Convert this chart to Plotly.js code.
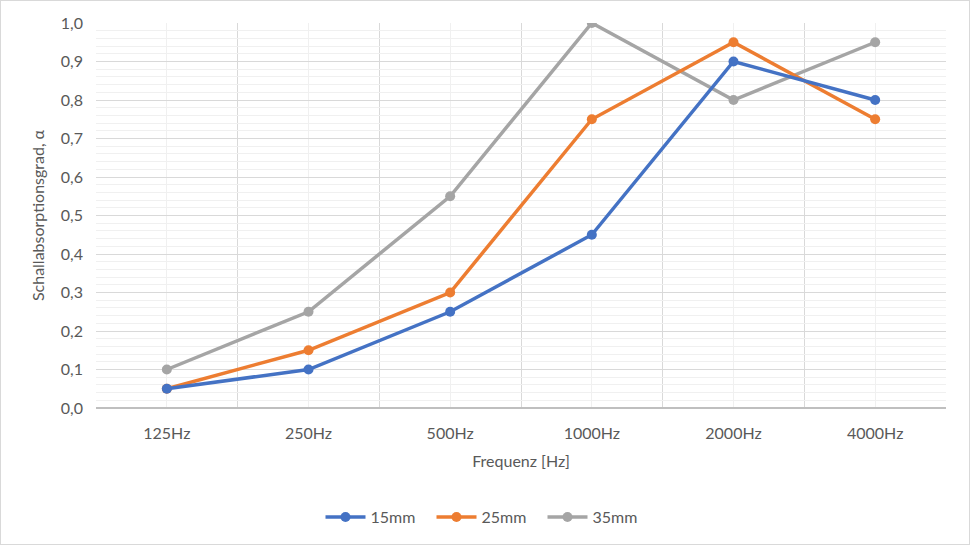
<!DOCTYPE html>
<html>
<head>
<meta charset="utf-8">
<script src="https://cdn.plot.ly/plotly-3.0.1.min.js"></script>
<style>
  html, body { margin: 0; padding: 0; background: #fff; }
  #wrap { position: relative; width: 970px; height: 545px; }
  #chart { width: 970px; height: 545px; }
  #frame { position: absolute; left: 0; top: 0; width: 970px; height: 545px;
           box-sizing: border-box; border: 1px solid #d9d9d9; pointer-events: none; }
</style>
</head>
<body>
<div id="wrap">
  <div id="chart"></div>
  <div id="frame"></div>
</div>
<script>
  // Frequenzbänder und Absorptionsgrade je Plattendicke
  var BANDS = ["125Hz", "250Hz", "500Hz", "1000Hz", "2000Hz", "4000Hz"];
  var MM15 = [0.05, 0.10, 0.25, 0.45, 0.90, 0.80];
  var MM25 = [0.05, 0.15, 0.30, 0.75, 0.95, 0.75];
  var MM35 = [0.10, 0.25, 0.55, 1.00, 0.80, 0.95];

  var FONT = "Lato, 'Liberation Sans', sans-serif";
  var TXT = "#595959";
  var idx = BANDS.map(function (_, i) { return i; });

  function series(name, ys, color) {
    return {
      type: "scatter", mode: "lines+markers", name: name,
      x: idx, y: ys,
      line: { color: color, width: 3.5 },
      marker: { color: color, size: 10 }
    };
  }

  var traces = [
    series("35mm", MM35, "#A5A5A5"),
    series("25mm", MM25, "#ED7D31"),
    series("15mm", MM15, "#4472C4")
  ];

  var layout = {
    width: 970, height: 545,
    paper_bgcolor: "#fff", plot_bgcolor: "#fff",
    separators: ",.",
    font: { family: FONT, size: 16, color: TXT },
    margin: { l: 96, r: 24, t: 23, b: 136 },
    showlegend: true,
    legend: { orientation: "h", x: 0.46, xanchor: "center", y: -0.28, yanchor: "middle",
      traceorder: "reversed", font: { size: 16, color: TXT }, itemwidth: 40,
      entrywidth: 56, entrywidthmode: "pixels" },
    xaxis: {
      range: [-0.5, 5.5], tickvals: idx, ticktext: BANDS,
      showgrid: true, gridcolor: "#f0f0f0", gridwidth: 1,
      minor: { tick0: -0.5, dtick: 1, showgrid: true, gridcolor: "#d9d9d9", gridwidth: 1 },
      zeroline: false, showline: false, ticks: "", ticklabelstandoff: 14,
      fixedrange: true,
      title: { text: "Frequenz [Hz]", font: { size: 16, color: TXT }, standoff: 14 }
    },
    yaxis: {
      range: [0, 1], tick0: 0, dtick: 0.1, tickformat: ".1f",
      showgrid: true, gridcolor: "#d9d9d9", gridwidth: 1,
      minor: { dtick: 0.02, showgrid: true, gridcolor: "#f0f0f0", gridwidth: 1 },
      zeroline: true, zerolinecolor: "#bfbfbf", zerolinewidth: 1.5,
      showline: false, ticks: "", ticklabelstandoff: 12,
      fixedrange: true,
      title: { text: "Schallabsorptionsgrad, α", font: { size: 16, color: TXT }, standoff: 12 }
    }
  };

  Plotly.newPlot("chart", traces, layout, { displayModeBar: false, staticPlot: true });
</script>
</body>
</html>
